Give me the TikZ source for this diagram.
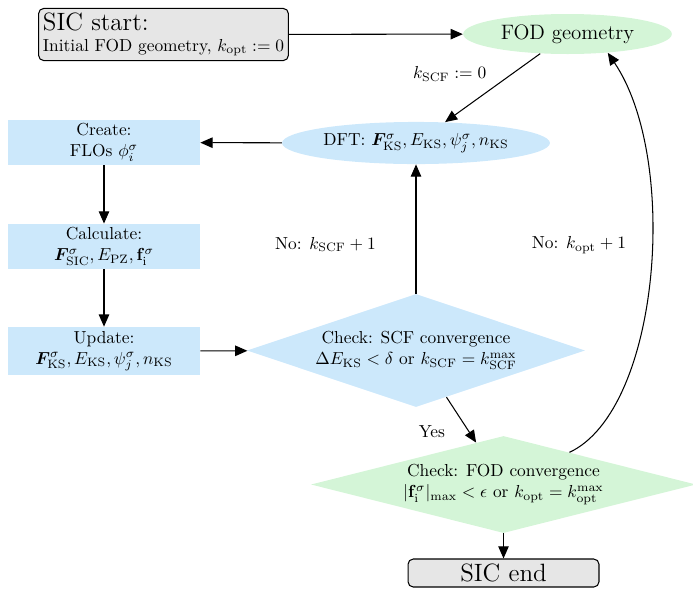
\documentclass[tikz,border=0pt]{standalone}
\usepackage{amsmath}
\usepackage{bm}
\usetikzlibrary{shapes.geometric}
\usetikzlibrary{arrows.meta}
\definecolor{scfblue}{RGB}{204,232,251}
\definecolor{fodgreen}{RGB}{212,245,215}
\definecolor{termgray}{RGB}{230,230,230}
\newcommand*{\boxwd}{110.4pt}
\newcommand*{\boxht}{26pt}
\newcommand*{\ksc }{k_{\mathrm{SCF}}}
\newcommand*{\kop }{k_{\mathrm{opt}}}
\tikzset{
    flowarrow/.style = {semithick, -{Triangle[length=7pt,width=6pt]}},
    termbox/.style   = {draw, semithick, fill=termgray, rounded corners=3pt, inner sep=2.5pt},
    stepbox/.style   = {fill=scfblue, align=center, minimum width=\boxwd, minimum height=\boxht, inner sep=1pt},
    scfoval/.style   = {ellipse, fill=scfblue, minimum width=154pt, minimum height=24.2pt, inner sep=1pt},
    fodoval/.style   = {ellipse, fill=fodgreen, minimum width=120pt, minimum height=23pt, inner sep=1pt},
    checkbox/.style  = {diamond, aspect=3.5, align=center, inner sep=0pt}
}

\begin{document}
\begin{tikzpicture}[x=0.575pt, y=-0.575pt]
    \useasboundingbox (0,0) rectangle (693,589);
    % terminals
    \node [termbox, align=left, minimum width=143.2pt, minimum height=29.3pt] (start) at (163.5,34.5)
        {{\Large SIC start:}\\ Initial FOD geometry, $\kop:=0$};
    \node [termbox, minimum width=109.8pt, minimum height=16.1pt, inner sep=0pt] (stop) at (503.5,573)
        {\Large SIC end};
    % ovals
    \node [fodoval] (fodgeo) at (567.5,34) {\large FOD geometry};
    \node [scfoval] (dft) at (416,143)
        {DFT: $\bm{F}^\sigma_{\mathrm{KS}}, E_{\mathrm{KS}}, \psi^\sigma_j, n_{\mathrm{KS}}$};
    % left column
    \node [stepbox] (create) at (104,142.5) {Create:\\ FLOs $\phi^\sigma_i$};
    \node [stepbox] (calc)   at (104,246.5)
        {Calculate:\\ $\bm{F}^\sigma_{\mathrm{SIC}}, E_{\mathrm{PZ}}, \mathbf{f}^\sigma_{\mathrm{i}}$};
    \node [stepbox, minimum height=27.6pt] (update) at (104,351)
        {Update:\\ $\bm{F}^\sigma_{\mathrm{KS}}, E_{\mathrm{KS}}, \psi^\sigma_j, n_{\mathrm{KS}}$};
    % checks
    \node [checkbox, fill=scfblue, minimum width=194.4pt, minimum height=65pt] (scfcheck) at (416,350.5)
        {Check: SCF convergence\\ $\Delta E_{\mathrm{KS}}<\delta$ or $\ksc=k^{\max}_{\mathrm{SCF}}$};
    \node [checkbox, fill=fodgreen, minimum width=221.4pt, minimum height=55.8pt] (fodcheck) at (503.5,484.5)
        {Check: FOD convergence\\ $|\mathbf{f}^\sigma_{\mathrm{i}}|_{\max}<\epsilon$ or $\kop=k^{\max}_{\mathrm{opt}}$};
    % connectors
    \draw [flowarrow] (start) -- (fodgeo);
    \draw [flowarrow] (fodgeo) -- node [midway, above left] {$\ksc:=0$} (dft);
    \draw [flowarrow] (dft) -- (create);
    \draw [flowarrow] (create) -- (calc);
    \draw [flowarrow] (calc) -- (update);
    \draw [flowarrow] (update) -- (scfcheck);
    \draw [flowarrow] (scfcheck) -- node [pos=0.38, left=19.5pt] {No: $\ksc+1$} (dft);
    \draw [flowarrow] (scfcheck) -- node [pos=0.75, left=10pt] {Yes} (fodcheck);
    \draw [flowarrow] (fodcheck.26) .. controls (660,410) and (680,160) .. node [pos=0.565, left=11pt] {No: $\kop+1$} (fodgeo.-25);
    \draw [flowarrow] (fodcheck) -- (stop);
\end{tikzpicture}
\end{document}
